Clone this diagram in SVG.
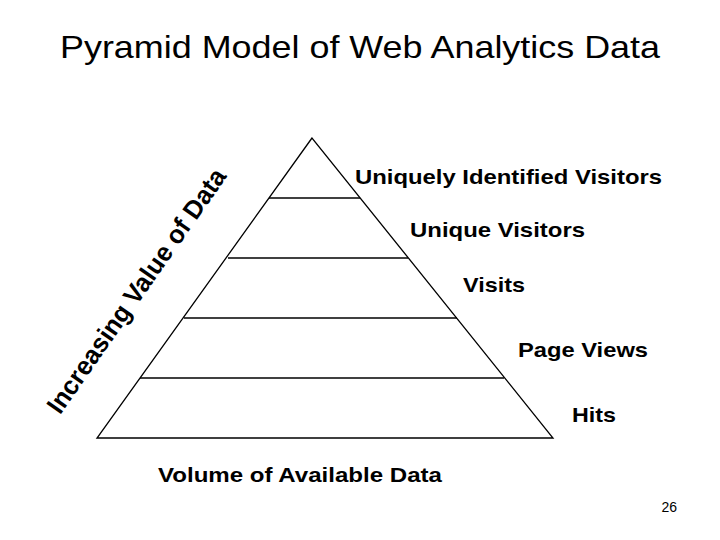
<svg xmlns="http://www.w3.org/2000/svg" width="720" height="540" viewBox="0 0 720 540">
<style>
.l{font-family:"Liberation Sans",Arial,sans-serif;font-weight:bold;font-size:21px;fill:#000}
.ln{stroke:#000;stroke-width:1.3;fill:none}
</style>
<rect width="720" height="540" fill="#fff"/>
<text x="60" y="58" textLength="600" lengthAdjust="spacingAndGlyphs" style="font-family:'Liberation Sans',Arial,sans-serif;font-size:32px">Pyramid Model of Web Analytics Data</text>
<g id="connectors">
<polygon class="ln" points="312,138 97,438 553,438"/>
<line class="ln" x1="269" y1="198" x2="360" y2="198"/>
<line class="ln" x1="228" y1="258" x2="408" y2="258"/>
<line class="ln" x1="184" y1="318" x2="457" y2="318"/>
<line class="ln" x1="140" y1="378" x2="504" y2="378"/>
</g>
<g id="axis-value"><text class="l" transform="translate(138,292) rotate(-55)" x="-146" dominant-baseline="middle" textLength="292" lengthAdjust="spacingAndGlyphs" style="font-size:26px">Increasing Value of Data</text></g>
<g id="n1"><text class="l" x="355" y="184" textLength="307" lengthAdjust="spacingAndGlyphs">Uniquely Identified Visitors</text></g>
<g id="n2"><text class="l" x="410" y="237" textLength="175" lengthAdjust="spacingAndGlyphs">Unique Visitors</text></g>
<g id="n3"><text class="l" x="463" y="292" textLength="62" lengthAdjust="spacingAndGlyphs">Visits</text></g>
<g id="n4"><text class="l" x="518" y="357" textLength="130" lengthAdjust="spacingAndGlyphs">Page Views</text></g>
<g id="n5"><text class="l" x="572" y="422" textLength="44" lengthAdjust="spacingAndGlyphs">Hits</text></g>
<g id="axis-volume"><text class="l" x="158" y="482" textLength="284" lengthAdjust="spacingAndGlyphs">Volume of Available Data</text></g>
<text x="677" y="512" text-anchor="end" style="font-family:'Liberation Sans',Arial,sans-serif;font-size:14px">26</text>
</svg>
